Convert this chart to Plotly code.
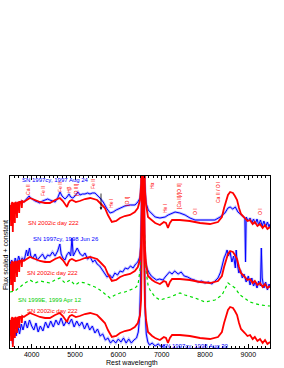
import plotly.graph_objects as go

# ---------------- data (wavelength in Angstrom, flux in arbitrary scaled units) ----------------
# SN 2002ic day 222 (plotted three times with different constants)
ic_wave = [3500, 3515, 3525, 3535, 3555, 3565, 3575, 3600, 3612, 3622, 3650, 3662, 3672, 3700, 3712,
           3722, 3760, 3772, 3782, 3820, 3850,
           3900, 3960, 4020, 4080, 4190, 4310, 4420, 4540, 4650, 4720, 4770, 4815, 4850, 4880, 4930,
           5020, 5110, 5230, 5350, 5430, 5510, 5600, 5690, 5760, 5850, 5950, 6040, 6150, 6270, 6380,
           6450, 6500, 6525, 6545, 6565, 6590, 6615, 6640, 6685, 6780, 6850, 6960, 7050, 7100, 7145,
           7190, 7240, 7420, 7650, 7885, 8115, 8300, 8390, 8440, 8485, 8530, 8580, 8645, 8690, 8740,
           8785, 8830, 8920, 8980, 9040, 9100, 9150, 9210, 9270, 9330, 9385, 9440, 9500]
ic_flux = [143, 140, 122, 144, 146, 116, 143, 145, 125, 146, 144, 130, 145, 146, 135,
           146, 146, 140, 147, 146, 147,
           148, 150, 149, 148, 146, 145, 145, 148, 150, 147, 144, 141, 145, 147, 148,
           146, 147, 149, 150, 149, 148, 144, 140, 133, 126, 127, 130, 132, 133, 136,
           140, 148, 163, 220, 320, 220, 158, 143, 131, 127, 125, 123, 126, 125, 120,
           125, 128, 128, 127, 125, 124, 126, 131, 140, 148, 153, 156, 155, 152, 148,
           140, 134, 130, 127, 128, 124, 126, 122, 124, 120, 123, 119, 121]
ic_offsets = [0, -59, -115]

# SN 1997cy, 1997 Aug 24
cy97_wave = [3500, 3530, 3560, 3600, 3650, 3700, 3760, 3820, 3880, 3940, 3980, 4030, 4080, 4140, 4190,
             4250, 4310, 4370, 4420, 4480, 4540, 4600, 4654, 4700, 4770, 4815, 4862, 4900, 4950, 5000,
             5069, 5115, 5170, 5230, 5290, 5346, 5400, 5460, 5510, 5577, 5650, 5700, 5740, 5810, 5880,
             5950, 6040, 6150, 6270, 6385, 6450, 6500, 6530, 6550, 6570, 6590, 6610, 6640, 6690, 6780,
             6850, 6960, 7030, 7080, 7150, 7240, 7310, 7420, 7540, 7654, 7770, 7885, 8000, 8115, 8230,
             8350, 8460, 8530, 8580, 8640, 8700, 8760, 8830, 8880, 8920, 8935, 8950, 9000, 9040, 9080,
             9120, 9160, 9200, 9240, 9280, 9320, 9360, 9400, 9440, 9480, 9500]
cy97_flux = [142, 138, 143, 140, 145, 144, 147, 146, 149, 152, 150, 148, 147, 146, 145,
             147, 148, 149, 148, 147, 146, 150, 156, 152, 149, 151, 154, 151, 150, 152,
             156, 153, 154, 154, 155, 154, 155, 155, 153, 150, 146, 142, 139, 135, 136,
             138, 140, 142, 143, 143, 146, 150, 165, 220, 300, 220, 165, 145, 138, 134,
             131, 130, 131, 131, 133, 135, 136, 135, 133, 130, 128, 128, 128, 128, 128,
             131, 135, 140, 141, 139, 141, 136, 133, 131, 130, 86, 131, 127, 130, 125,
             129, 124, 129, 123, 128, 122, 127, 121, 126, 121, 124]

# SN 1997cy, 1998 Jun 26
cy98j_wave = [3500, 3540, 3580, 3620, 3660, 3700, 3740, 3780, 3830, 3880, 3910, 3950, 3980, 4030, 4080,
              4130, 4190, 4250, 4310, 4370, 4420, 4480, 4540, 4600, 4650, 4680, 4720, 4770, 4810, 4860,
              4900, 4930, 4960, 5000, 5050, 5120, 5180, 5230, 5290, 5350, 5410, 5460, 5510, 5570, 5630,
              5690, 5740, 5800, 5860, 5920, 5980, 6040, 6100, 6160, 6220, 6280, 6340, 6400, 6450, 6500,
              6525, 6545, 6560, 6580, 6600, 6625, 6660, 6700, 6760, 6820, 6880, 6950, 7030, 7080, 7120,
              7180, 7240, 7300, 7380, 7450, 7520, 7600, 7680, 7760, 7840, 7920, 8000, 8080, 8160, 8240,
              8300, 8360, 8400, 8440, 8480, 8510, 8540, 8580, 8620, 8660, 8700, 8720, 8740, 8780, 8820,
              8860, 8900, 8950, 9000, 9040, 9080, 9120, 9160, 9200, 9240, 9280, 9300, 9320, 9360, 9400,
              9440, 9480, 9500]
cy98j_flux = [84, 88, 80, 90, 84, 92, 86, 90, 88, 98, 92, 100, 92, 90, 94,
              88, 91, 94, 89, 93, 92, 96, 92, 97, 104, 94, 90, 88, 93, 96,
              92, 110, 92, 95, 100, 94, 92, 95, 89, 91, 86, 88, 84, 82, 78,
              75, 71, 73, 70, 75, 73, 77, 76, 80, 79, 82, 80, 84, 86, 92,
              110, 170, 230, 170, 110, 88, 80, 76, 72, 70, 68, 69, 68, 71, 73,
              76, 74, 77, 74, 76, 72, 71, 69, 68, 66, 67, 65, 66, 64, 67,
              70, 76, 84, 90, 94, 98, 92, 96, 86, 92, 80, 98, 86, 75, 78,
              70, 74, 66, 72, 63, 70, 62, 66, 60, 67, 62, 100, 70, 60, 66,
              58, 64, 60]

# SN 1999E, 1999 Apr 12
e99_wave = [3500, 3615, 3730, 3846, 3962, 4077, 4192, 4308, 4423, 4538, 4654, 4769, 4885, 5000, 5115,
            5231, 5346, 5462, 5577, 5692, 5808, 5923, 6038, 6154, 6269, 6385, 6454, 6500, 6546, 6569,
            6592, 6638, 6685, 6731, 6846, 6962, 7192, 7423, 7538, 7769, 8000, 8231, 8392, 8531, 8692,
            8808, 9038, 9269, 9500]
e99_flux = [56, 57, 61, 65, 68, 65, 67, 66, 65, 68, 70, 65, 68, 63, 66,
            65, 63, 61, 58, 54, 50, 53, 55, 56, 58, 60, 63, 78, 128, 200,
            128, 78, 63, 58, 51, 48, 51, 55, 53, 50, 46, 48, 53, 65, 60,
            53, 46, 43, 42]

# SN 1997cy, 1998 Aug 30
cy98a_wave = [3500, 3530, 3560, 3600, 3640, 3680, 3720, 3760, 3800, 3850, 3900, 3950, 4000, 4050, 4100,
              4150, 4200, 4260, 4320, 4380, 4440, 4500, 4560, 4620, 4680, 4740, 4800, 4860, 4920, 4980,
              5040, 5100, 5160, 5220, 5280, 5340, 5400, 5460, 5520, 5580, 5640, 5700, 5760, 5820, 5880,
              5940, 6000, 6060, 6120, 6180, 6240, 6300, 6360, 6420, 6460, 6490, 6510, 6530, 6550, 6570,
              6590, 6605, 6620, 6645, 6680, 6720, 6780, 6850, 6920, 7000, 7080]
cy98a_flux = [12, 18, 4, 20, 12, 22, 14, 24, 18, 27, 20, 28, 22, 18, 25,
              16, 22, 17, 26, 20, 27, 21, 28, 23, 30, 22, 27, 24, 29, 21,
              27, 22, 26, 19, 25, 18, 22, 15, 19, 12, 14, 8, 10, 5, 8,
              5, 9, 6, 10, 5, 9, 5, 8, 10, 16, 30, 60, 120, 200, 240,
              160, 80, 35, 14, 6, 3, 5, 2, 4, 1, 3]

# line identifications
id_labels = ["Ca II", "Fe II", "Fe II", "Hβ", "[O III]", "Fe II", "He I", "[O I]", "Hα", "He I",
             "[Ca II]/[O II]", "O I", "Ca II / O I", "O I"]
id_waves = [3915, 4260, 4654, 4862, 5023, 5415, 5830, 6200, 6777, 7077, 7400, 7770, 8300, 9270]
id_heights = [159, 157, 161, 158, 158, 164, 145, 147, 162, 139, 152, 136, 155, 136]

# spectrum labels
sn_labels = ["SN 1997cy, 1997 Aug 24", "SN 2002ic day 222", "SN 1997cy, 1998 Jun 26",
             "SN 2002ic day 222", "SN 1999E, 1999 Apr 12", "SN 2002ic day 222", "SN 1997cy, 1998 Aug 30"]
sn_label_wave = [4540, 4515, 4790, 4490, 4423, 4470, 7770]
sn_label_flux = [168, 125, 109, 75, 48, 37, 2]
sn_label_color = ["blue", "red", "blue", "red", "#00cc00", "red", "blue"]

# ---------------- figure ----------------
RED = "#ff0000"
BLUE = "#0000ff"
HALO = "rgba(100,100,255,0.4)"
GREEN = "#00dd00"
FONT = "Liberation Sans, Arial, sans-serif"

fig = go.Figure()

def blue_trace(w, f):
    fig.add_trace(go.Scatter(x=w, y=f, mode="lines", line=dict(color=HALO, width=2.6),
                             hoverinfo="skip", showlegend=False))
    fig.add_trace(go.Scatter(x=w, y=f, mode="lines", line=dict(color=BLUE, width=1),
                             showlegend=False))

blue_trace(cy97_wave, cy97_flux)
blue_trace(cy98j_wave, cy98j_flux)
blue_trace(cy98a_wave, cy98a_flux)

fig.add_trace(go.Scatter(x=e99_wave, y=e99_flux, mode="lines",
                         line=dict(color=GREEN, width=1.2, dash="dot"), showlegend=False))

for off in ic_offsets:
    fig.add_trace(go.Scatter(x=ic_wave, y=[v + off for v in ic_flux], mode="lines",
                             line=dict(color=RED, width=1.8), showlegend=False))

# invisible trace so that the top (tick-only) axis is drawn
fig.add_trace(go.Scatter(x=[3500, 9500], y=[0, 0], mode="lines", xaxis="x2",
                         line=dict(width=0), hoverinfo="skip", showlegend=False, opacity=0))

annotations = []
for t, w, h in zip(id_labels, id_waves, id_heights):
    annotations.append(dict(x=w, y=h, xref="x", yref="y", text=t, textangle=-90, showarrow=False,
                            font=dict(family=FONT, size=5, color=RED), xanchor="center", yanchor="middle"))
for t, w, h, c in zip(sn_labels, sn_label_wave, sn_label_flux, sn_label_color):
    annotations.append(dict(x=w, y=h, xref="x", yref="y", text=t, showarrow=False,
                            font=dict(family=FONT, size=6, color=c), xanchor="center", yanchor="middle"))

# arrow marking the absorption
annotations.append(dict(x=5600, y=138, ax=5600, ay=156, xref="x", yref="y", axref="x", ayref="y",
                        text="", showarrow=True, arrowhead=2, arrowsize=0.7, arrowwidth=0.8,
                        arrowcolor="black"))
# axis titles
annotations.append(dict(x=0.47, y=-0.087, xref="paper", yref="paper", text="Rest wavelength",
                        showarrow=False, font=dict(family=FONT, size=7, color="black"),
                        xanchor="center", yanchor="middle"))
annotations.append(dict(x=-0.02, y=0.54, xref="paper", yref="paper", text="Flux scaled + constant",
                        showarrow=False, textangle=-90, font=dict(family=FONT, size=7, color="black"),
                        xanchor="center", yanchor="middle"))

tick_common = dict(range=[3500, 9500], ticks="inside", ticklen=4, tickwidth=0.8, tickcolor="black",
                   minor=dict(dtick=100, ticks="inside", ticklen=2, tickwidth=0.6, tickcolor="black"),
                   showgrid=False, zeroline=False)

fig.update_layout(
    width=284, height=368,
    margin=dict(l=10, r=14, t=176, b=20),
    paper_bgcolor="white", plot_bgcolor="white",
    showlegend=False,
    annotations=annotations,
    font=dict(family=FONT, size=7, color="black"),
    xaxis=dict(tickvals=[4000, 5000, 6000, 7000, 8000, 9000],
               showline=True, linecolor="black", linewidth=1, mirror=True,
               tickfont=dict(family=FONT, size=7), **tick_common),
    xaxis2=dict(overlaying="x", side="top", anchor="y", tickvals=[4000, 5000, 6000, 7000, 8000, 9000],
                showticklabels=False, showline=False, **tick_common),
    yaxis=dict(range=[0, 172], showticklabels=False, ticks="", showline=True, linecolor="black",
               linewidth=1, mirror=True, showgrid=False, zeroline=False),
)

fig.write_html("out.html", config={"displayModeBar": False},
               post_script="document.body.style.margin='0';document.body.style.padding='0';")
